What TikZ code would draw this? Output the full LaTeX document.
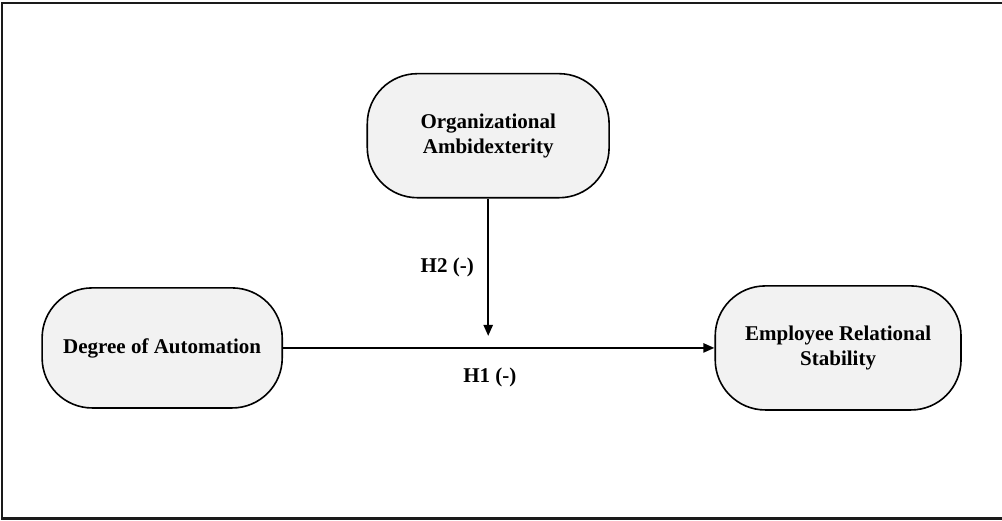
\documentclass[tikz,border=0pt]{standalone}
\usepackage{fontspec}
\setmainfont{Liberation Serif}
\usepackage{xcolor}
\usetikzlibrary{arrows.meta}
\definecolor{ink}{HTML}{000000}
\definecolor{boxfill}{HTML}{F2F2F2}
\definecolor{frame}{HTML}{1A1A1A}

\begin{document}
\begin{tikzpicture}[
  font=\bfseries\fontsize{10.5}{12.5}\selectfont,
  >={Triangle[length=5.5pt,width=4.5pt]},
  arrow/.style={->,line width=1.1pt,draw=ink},
  construct/.style={draw=ink,fill=boxfill,rounded corners=0.88cm,line width=0.8pt,
                    align=center,text=ink,inner sep=0pt},
  hyp/.style={text=ink}
]

% Canvas and open frame
\useasboundingbox (0,0) rectangle (17.61,9.155);
\draw[line width=1.2pt,draw=frame] (17.61,9.10) -- (0.04,9.10) -- (0.04,0.04) -- (17.61,0.04);

% Constructs
\node[construct,minimum width=4.25cm,minimum height=2.18cm] (ambi) at (8.58,6.77)
  {Organizational\\Ambidexterity};
\node[construct,minimum width=4.22cm,minimum height=2.11cm] (auto) at (2.85,3.04)
  {Degree of Automation};
\node[construct,minimum width=4.32cm,minimum height=2.18cm] (stab) at (14.73,3.04)
  {Employee Relational\\Stability};

% Moderation end point, just above the main path
\coordinate (hit) at (8.58,3.25);

% Paths
\draw[arrow] (auto.east) -- (stab.west);
\draw[arrow] (ambi.south) -- (hit);

% Hypotheses
\node[hyp] (h1) at (8.61,2.53) {H1 (-)};
\node[hyp] (h2) at (7.86,4.46) {H2 (-)};

\end{tikzpicture}
\end{document}
